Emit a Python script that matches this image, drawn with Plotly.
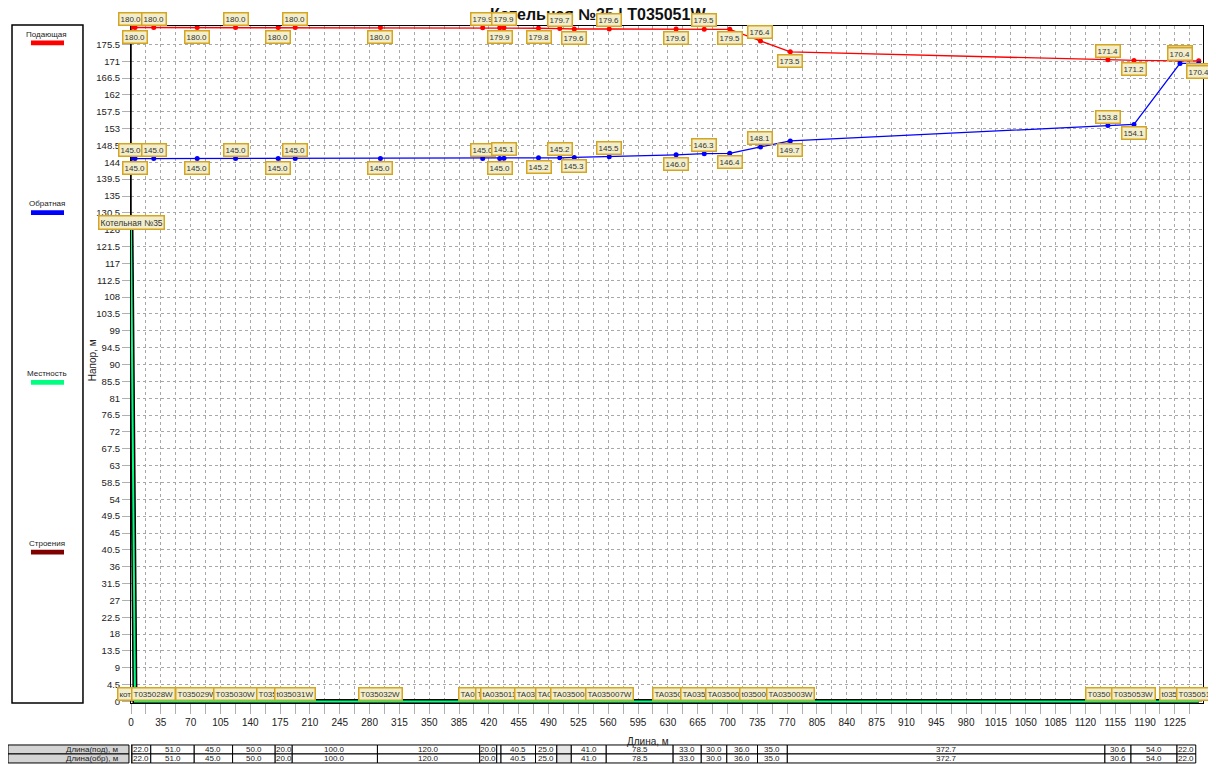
import numpy as np
import plotly.graph_objects as go

# ---------------- data ----------------
seg_len = [4.7, 22.0, 51.0, 45.0, 50.0, 20.0, 100.0, 120.0, 20.0, 5.0, 40.5, 25.0,
           17.0, 41.0, 78.5, 33.0, 30.0, 36.0, 35.0, 372.7, 30.6, 54.0, 22.0]
seg_label_sup = ["", "22.0", "51.0", "45.0", "50.0", "20.0", "100.0", "120.0", "20.0", "",
                 "40.5", "25.0", "", "41.0", "78.5", "33.0", "30.0", "36.0", "35.0",
                 "372.7", "30.6", "54.0", "22.0"]
seg_label_ret = list(seg_label_sup)
seg_grey = [False] * 12 + [True] + [False] * 10

supply = [180.0, 180.0, 180.0, 180.0, 180.0, 180.0, 180.0, 180.0, 179.9, 179.9, 179.9,
          179.8, 179.7, 179.6, 179.6, 179.6, 179.5, 179.5, 176.4, 173.5, 171.4, 171.2,
          171.1, 171.1]
ret = [145.0, 145.0, 145.0, 145.0, 145.0, 145.0, 145.0, 145.0, 145.0, 145.0, 145.1,
       145.2, 145.2, 145.3, 145.5, 146.0, 146.3, 146.4, 148.1, 149.7, 153.8, 154.1,
       170.4, 170.4]
terrain = [126.0] + [0.0] * 23
node_names = ["", "кот.№35", "T035028W", "T035029W", "T035030W", "T035033W", "t035031W",
              "T035032W", "TA035013W", "TA035012W", "tA035011W", "TA035010W", "TA035009W",
              "TA035008W", "TA035007W", "TA035006W", "TA035005W", "TA035004W", "t035005W",
              "TA035003W", "T035054W", "T035053W", "t035052W", "T035051W"]
source_name = "Котельная №35"
title_text = "Котельная №35 | T035051W"

legend_names = ["Подающая", "Обратная", "Местность", "Строения"]
legend_colors = ["#ff0000", "#0000ff", "#00ff80", "#800000"]
row_names = ["Длина(под), м", "Длина(обр), м"]

dist = np.concatenate([[0.0], np.cumsum(seg_len)])

FONT = "Liberation Sans"
LBL_BG = "#f2eecb"
LBL_BORDER = "#d6a520"

fig = go.Figure()

# terrain (black outline + green)
fig.add_trace(go.Scatter(x=dist, y=terrain, mode="lines",
                         line=dict(color="black", width=5), hoverinfo="skip"))
fig.add_trace(go.Scatter(x=dist, y=terrain, mode="lines",
                         line=dict(color=legend_colors[2], width=2), hoverinfo="skip"))
# boiler vertical
fig.add_trace(go.Scatter(x=[dist[0], dist[0]], y=[terrain[0], supply[0]], mode="lines",
                         line=dict(color="black", width=1.5), hoverinfo="skip"))
# supply / return
fig.add_trace(go.Scatter(x=dist, y=supply, mode="lines+markers",
                         line=dict(color=legend_colors[0], width=1.3),
                         marker=dict(color=legend_colors[0], size=5)))
fig.add_trace(go.Scatter(x=dist, y=ret, mode="lines+markers",
                         line=dict(color=legend_colors[1], width=1.3),
                         marker=dict(color=legend_colors[1], size=5)))

ann = []
# title
ann.append(dict(text="<b>" + title_text + "</b>", xref="paper", yref="paper",
                x=0.4356, y=1.0165, xanchor="center", yanchor="middle", showarrow=False,
                font=dict(size=16, color="#111", family=FONT)))

def val_label(x, y, up):
    return dict(text=f"{y:.1f}", x=x, y=y, xref="x", yref="y", showarrow=False,
                xanchor="center", yanchor="middle",
                yshift=9 if up else -9, bgcolor=LBL_BG, bordercolor=LBL_BORDER,
                borderwidth=1.5, borderpad=1, font=dict(size=8, color="#333", family=FONT))

for i, (x, y) in enumerate(zip(dist, supply)):
    ann.append(val_label(x, y, i % 2 == 0))
for i, (x, y) in enumerate(zip(dist, ret)):
    ann.append(val_label(x, y, i % 2 == 0))

ann.append(dict(text=source_name, x=dist[0], y=terrain[0], xref="x", yref="y",
                showarrow=False, xanchor="center", yanchor="bottom", bgcolor=LBL_BG,
                bordercolor=LBL_BORDER, borderwidth=1.5, borderpad=1,
                font=dict(size=8.5, color="#333", family=FONT)))

for x, name in zip(dist, node_names):
    if not name:
        continue
    ann.append(dict(text=name, x=x, y=0, xref="x", yref="paper", xanchor="center",
                    yanchor="bottom", yshift=2, showarrow=False, bgcolor=LBL_BG,
                    bordercolor=LBL_BORDER, borderwidth=1.5, borderpad=1,
                    font=dict(size=8, color="#333", family=FONT)))

# axis titles
ann.append(dict(text="Напор, м", xref="paper", yref="paper", x=-0.036, y=0.507,
                xanchor="center", yanchor="middle", textangle=-90, showarrow=False,
                font=dict(size=10, color="#222", family=FONT)))
ann.append(dict(text="Длина, м", xref="paper", yref="paper", x=0.4825, y=-0.057,
                xanchor="center", yanchor="middle", showarrow=False,
                font=dict(size=10, color="#222", family=FONT)))

shapes = []
# legend panel
shapes.append(dict(type="rect", xref="paper", yref="paper", x0=-0.111, x1=-0.0448,
                   y0=0.0, y1=1.0015, line=dict(color="black", width=1.5), fillcolor="white",
                   layer="below"))
for k, (nm, col) in enumerate(zip(legend_names, legend_colors)):
    ty = 0.988 - k * 0.2507
    ann.append(dict(text=nm, xref="paper", yref="paper", x=-0.0784, y=ty,
                    xanchor="center", yanchor="middle", showarrow=False,
                    font=dict(size=8, color="#222", family=FONT)))
    shapes.append(dict(type="rect", xref="paper", yref="paper", x0=-0.0933, x1=-0.0625,
                       y0=ty - 0.0095, y1=ty - 0.0165, line=dict(width=0), fillcolor=col))

# table
row_y = [(-0.0620, -0.0753), (-0.0753, -0.0886)]
shift = -3.5
for r, (rn, labels) in enumerate(zip(row_names, [seg_label_sup, seg_label_ret])):
    y0, y1 = row_y[r]
    shapes.append(dict(type="rect", xref="paper", yref="paper", x0=-0.1147, x1=-0.0019,
                       y0=y0, y1=y1, line=dict(color="black", width=1), fillcolor="#d4d4d4"))
    ann.append(dict(text=rn, xref="paper", yref="paper", x=-0.0100, y=(y0 + y1) / 2,
                    xanchor="right", yanchor="middle", showarrow=False,
                    font=dict(size=8, color="#222", family=FONT)))
    for i, lab in enumerate(labels):
        xa, xb = dist[i] + shift, dist[i + 1] + shift
        shapes.append(dict(type="rect", xref="x", yref="paper", x0=max(xa, 0), x1=xb,
                           y0=y0, y1=y1, line=dict(color="black", width=1),
                           fillcolor="#e6e6e6" if seg_grey[i] else "white"))
        if lab:
            ann.append(dict(text=lab, xref="x", yref="paper", x=(xa + xb) / 2, y=(y0 + y1) / 2,
                            xanchor="center", yanchor="middle", showarrow=False,
                            font=dict(size=8, color="#222", family=FONT)))

# page body adds an 8px offset, so the figure is sized/margined to compensate
fig.update_layout(
    width=1208, height=756,
    margin=dict(l=123, r=13, t=18, b=61),
    paper_bgcolor="white", plot_bgcolor="white",
    showlegend=False,
    annotations=ann, shapes=shapes,
    font=dict(family=FONT, size=10, color="#222"),
)
fig.update_xaxes(range=[0, 1258], dtick=35, tick0=0, showgrid=True, gridcolor="#a8a8a8",
                 griddash="dot", gridwidth=1, ticks="outside", ticklen=10, tickcolor="#b0b0b0",
                 showline=True, linecolor="black", linewidth=1, mirror=True, zeroline=False,
                 tickfont=dict(size=10, color="#222"),
                 minor=dict(dtick=17.5, tick0=0, showgrid=True, gridcolor="#a8a8a8",
                            griddash="dot", ticks="outside", ticklen=10, tickcolor="#b0b0b0"))
fig.update_yaxes(range=[-0.4, 180.4], tickvals=[4.5 * i for i in range(40)],
                 ticktext=[f"{4.5 * i:g}" for i in range(40)],
                 showgrid=True, gridcolor="#a8a8a8", griddash="dot", gridwidth=1,
                 ticks="outside", ticklen=8, tickcolor="#b0b0b0",
                 showline=True, linecolor="black", linewidth=1, mirror=True, zeroline=False,
                 tickfont=dict(size=9.5, color="#222"))

fig.write_html("out.html")
